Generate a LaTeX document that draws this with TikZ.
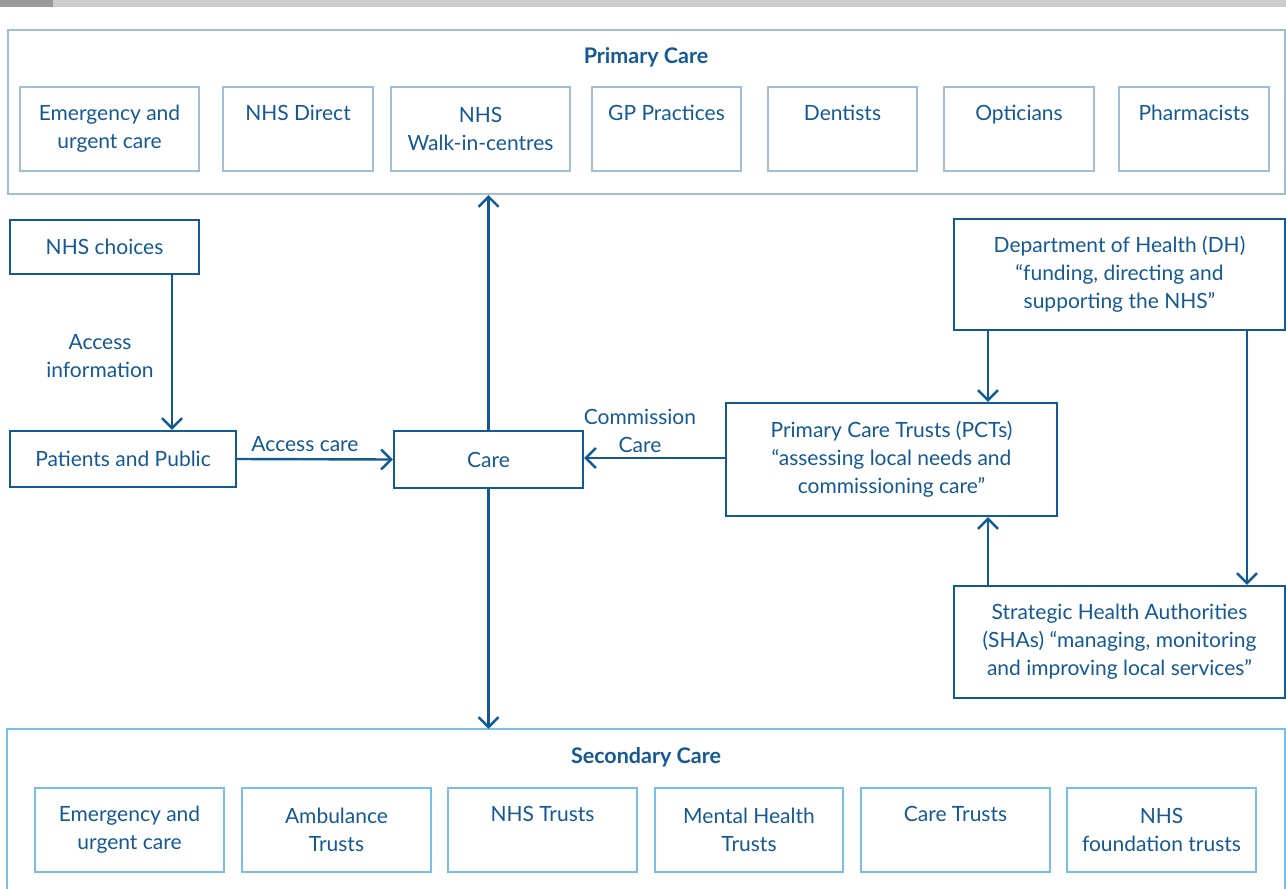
\documentclass[tikz,border=0pt]{standalone}
\usepackage{fontspec}
\setmainfont{Lato}
\usetikzlibrary{arrows.meta}
\definecolor{nhsdark}{RGB}{18,90,150}
\definecolor{nhstext}{RGB}{20,88,148}
\definecolor{primline}{RGB}{160,190,215}
\definecolor{secline}{RGB}{120,190,235}
\definecolor{bardark}{RGB}{153,153,153}
\definecolor{barlight}{RGB}{204,204,204}
\newcommand{\dsc}{\vphantom{g}}
\tikzset{
  txt/.style={text=nhstext, font=\fontsize{21}{28}\selectfont, align=center, inner sep=0pt},
  darkbox/.style={txt, draw=nhsdark, line width=2.4pt, rectangle},
  primbox/.style={txt, draw=primline, line width=2.2pt, rectangle},
  secbox/.style={txt, draw=secline, line width=2.2pt, rectangle},
  ttl/.style={text=nhstext, font=\fontsize{21.5}{28}\selectfont\bfseries, inner sep=0pt},
  conn/.style={draw=nhsdark, line width=2.4pt, -{Straight Barb[length=10pt,width=20pt]}},
}
\begin{document}
\begin{tikzpicture}[x=1pt,y=-1pt]
\useasboundingbox (0,0) rectangle (1286,889);
\fill[bardark] (0,0) rectangle (53,7);
\fill[barlight] (53,0) rectangle (1286,7);
% Primary care
\node[primbox, minimum width=1277, minimum height=164] (primary) at (646.5,112) {};
\node[ttl] (ptitle) at (646,57) {Primary Care};
\node[primbox, minimum width=179, minimum height=84] (p1) at (109.5,129) {Emergency and\\urgent care};
\node[primbox, minimum width=150, minimum height=84] (p2) at (298,129) {NHS Direct\\\dsc};
\node[primbox, minimum width=179, minimum height=84] (p3) at (480.5,129) {NHS\\Walk-in-centres};
\node[primbox, minimum width=149, minimum height=84] (p4) at (666.5,129) {GP Practices\\\dsc};
\node[primbox, minimum width=149, minimum height=84] (p5) at (842.5,129) {Dentists\\\dsc};
\node[primbox, minimum width=150, minimum height=84] (p6) at (1019,129) {Opticians\\\dsc};
\node[primbox, minimum width=150, minimum height=84] (p7) at (1194,129) {Pharmacists\\\dsc};
% middle
\node[darkbox, minimum width=189, minimum height=54] (choices) at (104.5,247) {NHS choices};
\node[darkbox, minimum width=226, minimum height=56] (patients) at (123,459) {Patients and Public};
\node[darkbox, minimum width=189, minimum height=57] (care) at (488.5,459.5) {Care};
\node[darkbox, minimum width=331, minimum height=113] (pct) at (891.5,459.5) {Primary Care Trusts (PCTs)\\“assessing local needs and\\commissioning care”};
\node[darkbox, minimum width=331, minimum height=111] (dh) at (1119.5,274.5) {Department of Health (DH)\\“funding, directing and\\supporting the NHS”};
\node[darkbox, minimum width=331, minimum height=112] (sha) at (1119.5,642) {Strategic Health Authorities\\(SHAs) “managing, monitoring\\and improving local services”};
% Secondary care
\node[minimum width=1278, minimum height=160, inner sep=0pt] (secondary) at (646,809) {};
\draw[secline, line width=2.2pt] (secondary.south west) -- (secondary.north west) -- (secondary.north east) -- (secondary.south east);
\node[ttl] (stitle) at (646,757) {Secondary Care};
\node[secbox, minimum width=189, minimum height=84] (s1) at (129.5,830) {Emergency and\\urgent care};
\node[secbox, minimum width=189, minimum height=84] (s2) at (336.5,830) {Ambulance\\Trusts};
\node[secbox, minimum width=189, minimum height=84] (s3) at (542.5,830) {NHS Trusts\\\dsc};
\node[secbox, minimum width=188, minimum height=84] (s4) at (749,830) {Mental Health\\Trusts};
\node[secbox, minimum width=189, minimum height=84] (s5) at (955.5,830) {Care Trusts\\\dsc};
\node[secbox, minimum width=189, minimum height=84] (s6) at (1161.5,830) {NHS\\foundation trusts};
% connectors
\draw[conn] ([xshift=67.5]choices.south) -- ([xshift=67.5]choices.south |- patients.north);
\node[txt] (lblinfo) at (100,356) {Access\\information};
\draw[conn] (patients.east) -- (care.west);
\node[txt] (lblcare) at (305,444) {Access care};
\draw[conn] (care.north) -- (care.north |- primary.south);
\draw[conn] (care.south) -- (care.south |- secondary.north);
\draw[conn] ([yshift=1.5]pct.west) -- ([yshift=1.5]pct.west -| care.east);
\node[txt] (lblcomm) at (640,431) {Commission\\Care};
\draw[conn] ([xshift=-131.5]dh.south) -- ([xshift=-131.5]dh.south |- pct.north);
\draw[conn] ([xshift=127.5]dh.south) -- ([xshift=127.5]dh.south |- sha.north);
\draw[conn] ([xshift=-131.5]sha.north) -- ([xshift=-131.5]sha.north |- pct.south);
\end{tikzpicture}
\end{document}
